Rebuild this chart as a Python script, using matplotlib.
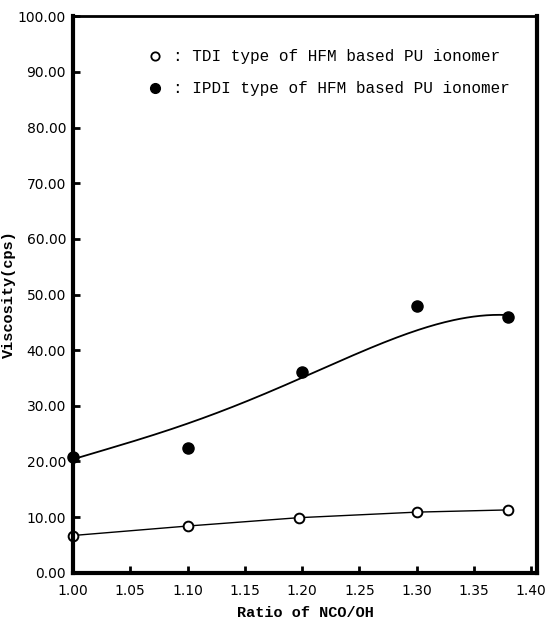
import numpy as np
import matplotlib
matplotlib.use("Agg")
import matplotlib.pyplot as plt

# ratio of NCO/OH
ratio_tdi = [1.00, 1.10, 1.197, 1.30, 1.38]
visc_tdi = [6.7, 8.4, 9.9, 10.9, 11.3]

ratio_ipdi = [1.00, 1.10, 1.20, 1.30, 1.38]
visc_ipdi = [20.8, 22.4, 36.0, 47.9, 46.0]

# hand-drawn trend line for IPDI
trend_x = [1.00, 1.05, 1.10, 1.15, 1.20, 1.25, 1.30, 1.35, 1.38]
trend_y = [20.5, 23.2, 26.9, 30.9, 35.2, 39.1, 43.6, 46.4, 46.1]

xticks = [1.00, 1.05, 1.10, 1.15, 1.20, 1.25, 1.30, 1.35, 1.40]
yticks = [0, 10, 20, 30, 40, 50, 60, 70, 80, 90, 100]

fig = plt.figure(figsize=(5.53, 6.26), dpi=100)
ax = fig.add_axes([0.132, 0.085, 0.839, 0.889])

# smooth trend curve
coef = np.polyfit(np.array(trend_x) - 1.2, trend_y, 4)
xs = np.linspace(1.0, 1.38, 200)
ax.plot(xs, np.polyval(coef, xs - 1.2), color="black", lw=1.3)

ax.plot(ratio_tdi, visc_tdi, color="black", lw=1.0, marker="o", ms=7,
        mfc="white", mec="black", mew=1.4, clip_on=False)
ax.plot(ratio_ipdi, visc_ipdi, ls="none", marker="o", ms=8,
        color="black", clip_on=False)

ax.set_xlim(1.0, 1.405)
ax.set_ylim(0, 100)
ax.set_xticks(xticks)
ax.set_yticks(yticks)
ax.set_xticklabels([f"{v:.2f}" for v in xticks])
ax.set_yticklabels([f"{v:.2f}" for v in yticks])
ax.tick_params(direction="in", length=5, width=2, labelsize=10, pad=5)
ax.tick_params(axis="x", pad=8)

for side in ["left", "bottom", "right"]:
    ax.spines[side].set_linewidth(3)
ax.spines["top"].set_linewidth(2)

mono = "Liberation Mono"
ax.set_ylabel("Viscosity(cps)", family=mono, weight="bold", fontsize=11)
ax.yaxis.set_label_coords(-0.122, 0.5)
ax.set_xlabel("Ratio of NCO/OH", family=mono, weight="bold", fontsize=11, labelpad=6)

# legend drawn as text
ax.plot([1.072], [92.8], marker="o", ms=6, mfc="white", mec="black", mew=1.3,
        ls="none")
ax.plot([1.072], [87.1], marker="o", ms=7, color="black", ls="none")
ax.text(1.087, 92.8, ": TDI type of HFM based PU ionomer", family=mono,
        fontsize=11.5, va="center")
ax.text(1.087, 87.1, ": IPDI type of HFM based PU ionomer", family=mono,
        fontsize=11.5, va="center")

fig.savefig("out.png", dpi=100)
